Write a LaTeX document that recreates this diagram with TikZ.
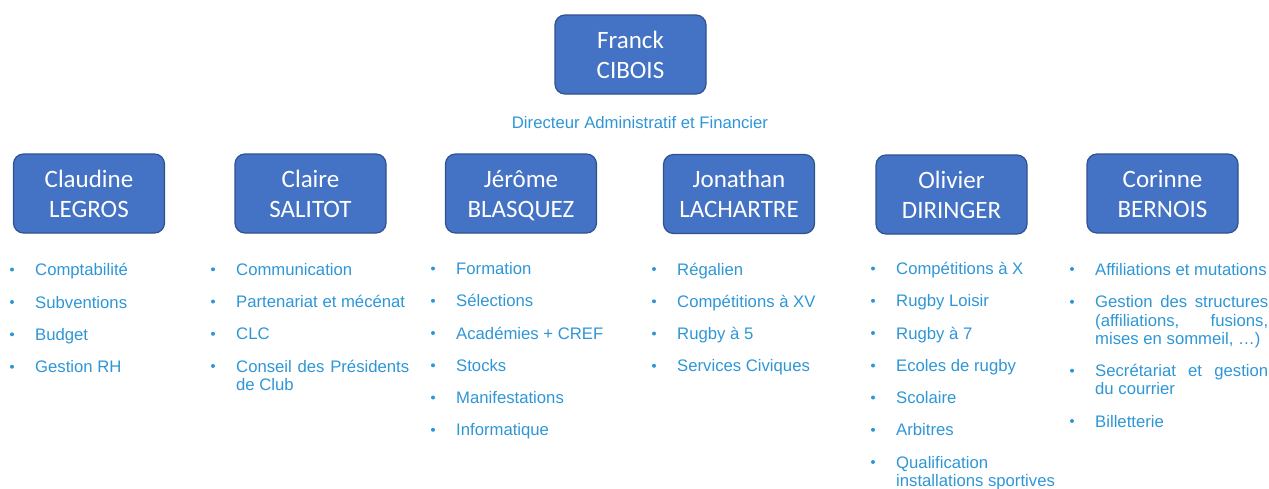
\documentclass[tikz,border=0pt]{standalone}
\usepackage{fontspec}
\setmainfont{Liberation Sans}
\newfontfamily\titlefont{Carlito}
\definecolor{boxfill}{RGB}{68,114,196}
\definecolor{boxborder}{RGB}{47,82,143}
\definecolor{listblue}{RGB}{46,150,214}
\tikzset{
  personbox/.style={draw=boxborder, fill=boxfill, line width=1.2pt, rounded corners=10pt,
    minimum width=151pt, minimum height=79pt, inner sep=0pt, text=white,
    font=\titlefont\fontsize{25}{30}\selectfont, align=center},
  listtext/.style={anchor=base west, inner sep=0pt, text=listblue,
    font=\fontsize{16.7}{18.2}\selectfont},
  bulletdot/.style={fill=listblue}
}
\newcommand\orgitem[4]{%
  \fill[bulletdot] (#2-23,#3-6) circle (2pt);
  \node[listtext] (#1) at (#2,#3) {#4};}
\newcommand\orgline[4]{\node[listtext] (#1) at (#2,#3) {#4};}
\newcommand\twolines[2]{\rule{0pt}{17.5pt}\smash{#1}\\\smash{#2}}
\begin{document}
\begin{tikzpicture}[x=1pt,y=-1pt]
\useasboundingbox (0,0) rectangle (1269,488);
% top
\node[personbox] (franck) at (630.5,54.5) {\twolines{Franck}{CIBOIS}};
\node[listtext, anchor=base] (dir) at (640,128) {Directeur Administratif et Financier};
% second row
\node[personbox] (claudine) at (89,193.5) {\twolines{Claudine}{LEGROS}};
\node[personbox] (claire) at (310.5,193.5) {\twolines{Claire}{SALITOT}};
\node[personbox] (jerome) at (521,193.5) {\twolines{Jérôme}{BLASQUEZ}};
\node[personbox] (jonathan) at (739,194) {\twolines{Jonathan}{LACHARTRE}};
\node[personbox] (olivier) at (951.5,194.5) {\twolines{Olivier}{DIRINGER}};
\node[personbox] (corinne) at (1162.5,193.5) {\twolines{Corinne}{BERNOIS}};
% Claudine
\orgitem{cl1}{35}{275.5}{Comptabilité}
\orgitem{cl2}{35}{308}{Subventions}
\orgitem{cl3}{35}{340.3}{Budget}
\orgitem{cl4}{35}{372.7}{Gestion RH}
% Claire
\orgitem{ca1}{236}{275.3}{Communication}
\orgitem{ca2}{236}{307.5}{Partenariat et mécénat}
\orgitem{ca3}{236}{339.8}{CLC}
\orgitem{ca4}{236}{372}{\makebox[173pt][s]{Conseil des Présidents}}
\orgline{ca4b}{236}{390.2}{de Club}
% Jerome
\orgitem{je1}{456}{274.5}{Formation}
\orgitem{je2}{456}{306.8}{Sélections}
\orgitem{je3}{456}{339}{Académies + CREF}
\orgitem{je4}{456}{371.3}{Stocks}
\orgitem{je5}{456}{403.5}{Manifestations}
\orgitem{je6}{456}{435.8}{Informatique}
% Jonathan
\orgitem{jo1}{677}{275}{Régalien}
\orgitem{jo2}{677}{307.3}{Compétitions à XV}
\orgitem{jo3}{677}{339.5}{Rugby à 5}
\orgitem{jo4}{677}{371.8}{Services Civiques}
% Olivier
\orgitem{ol1}{896}{274.5}{Compétitions à X}
\orgitem{ol2}{896}{306.8}{Rugby Loisir}
\orgitem{ol3}{896}{339}{Rugby à 7}
\orgitem{ol4}{896}{371.5}{Ecoles de rugby}
\orgitem{ol5}{896}{403.5}{Scolaire}
\orgitem{ol6}{896}{435.8}{Arbitres}
\orgitem{ol7}{896}{468}{Qualification}
\orgline{ol7b}{896}{486.2}{installations sportives}
% Corinne
\orgitem{co1}{1095}{275}{Affiliations et mutations}
\orgitem{co2}{1095}{307.8}{\makebox[173pt][s]{Gestion des structures}}
\orgline{co2b}{1095}{326}{\makebox[173pt][s]{(affiliations, fusions,}}
\orgline{co2c}{1095}{344.2}{mises en sommeil, …)}
\orgitem{co3}{1095}{376.7}{\makebox[173pt][s]{Secrétariat et gestion}}
\orgline{co3b}{1095}{394.9}{du courrier}
\orgitem{co4}{1095}{427}{Billetterie}
\end{tikzpicture}
\end{document}
